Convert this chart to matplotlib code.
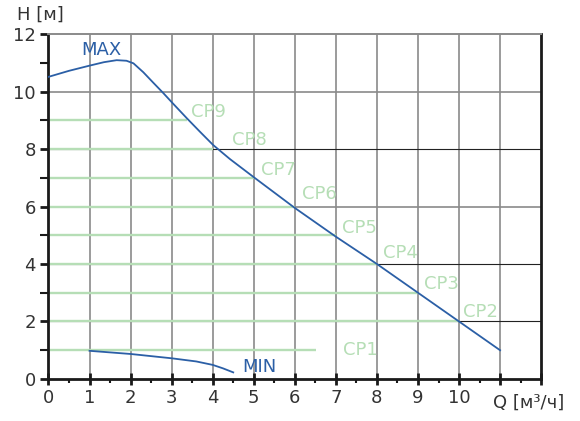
import matplotlib.pyplot as plt
import numpy as np
from matplotlib.ticker import MultipleLocator

# MAX curve (Q, H)
max_q = [0, 0.5, 1.0, 1.35, 1.66, 1.9, 2.07, 2.31, 2.55, 2.8, 3.04, 3.37, 3.69, 4.01, 4.42, 5.0, 6.0, 7.0, 8.0, 9.0, 10.0, 11.0]
max_h = [10.51, 10.72, 10.9, 11.02, 11.09, 11.07, 10.98, 10.67, 10.31, 9.94, 9.57, 9.07, 8.6, 8.14, 7.65, 7.02, 5.95, 4.95, 4.0, 3.0, 2.0, 1.0]

# MIN curve
min_q = [1.0, 2.0, 3.0, 3.6, 4.0, 4.25, 4.5]
min_h = [0.98, 0.87, 0.72, 0.61, 0.49, 0.37, 0.23]

# constant pressure lines
cp_names = ["CP1", "CP2", "CP3", "CP4", "CP5", "CP6", "CP7", "CP8", "CP9"]
cp_h = [1, 2, 3, 4, 5, 6, 7, 8, 9]
cp_end = [6.52, 10, 9, 8, 7, 6, 5, 4, 3.38]
cp_lbl_x = [7.17, 10.1, 9.15, 8.15, 7.15, 6.17, 5.18, 4.47, 3.47]
cp_lbl_y = [1.0, 2.33, 3.31, 4.39, 5.26, 6.45, 7.28, 8.33, 9.27]

blue = "#2b5fa6"
green = "#b6deb6"
txt = "#333333"
fs = 13

fig = plt.figure(figsize=(5.8, 4.21), dpi=100)
ax = fig.add_axes([0.0836, 0.0998, 0.8494, 0.8194])
ax.set_xlim(0, 12)
ax.set_ylim(0, 12)

# grid
for x in range(1, 12):
    ax.axvline(x, color="#8a8a8a", lw=1.2, zorder=1)
for y in [6, 10]:
    ax.axhline(y, color="#8a8a8a", lw=1.2, zorder=1)
for y in [2, 4, 8]:
    ax.axhline(y, color="#222222", lw=0.8, zorder=1)

for h, e in zip(cp_h, cp_end):
    ax.plot([0, e], [h, h], color=green, lw=1.7, zorder=2, solid_capstyle="butt")
for n, lx, ly in zip(cp_names, cp_lbl_x, cp_lbl_y):
    ax.text(lx, ly, n, color=green, fontsize=fs, ha="left", va="center", zorder=4)

ax.plot(max_q, max_h, color=blue, lw=1.3, zorder=3)
ax.plot(min_q, min_h, color=blue, lw=1.3, zorder=3)
ax.text(0.81, 11.44, "MAX", color=blue, fontsize=fs, ha="left", va="center")
ax.text(4.72, 0.42, "MIN", color=blue, fontsize=fs, ha="left", va="center")

for s in ["left", "bottom", "right"]:
    ax.spines[s].set_linewidth(2)
    ax.spines[s].set_color("#1a1a1a")
ax.spines["top"].set_color("#8a8a8a")
ax.spines["top"].set_linewidth(1.4)

ax.set_xticks(range(0, 13))
ax.set_xticklabels([str(i) for i in range(0, 11)] + ["", ""])
ax.xaxis.set_minor_locator(MultipleLocator(0.5))
ax.tick_params(axis="x", which="major", direction="inout", length=9, width=2, colors="#1a1a1a",
               labelcolor=txt, labelsize=fs, pad=3)
ax.tick_params(axis="x", which="minor", direction="out", length=3, width=1.5, colors="#1a1a1a")
ax.set_yticks(range(0, 13, 2))
ax.yaxis.set_minor_locator(MultipleLocator(1))
ax.tick_params(axis="y", which="major", direction="out", length=6, width=2, colors="#1a1a1a",
               labelcolor=txt, labelsize=fs, pad=3)
ax.tick_params(axis="y", which="minor", direction="out", length=6, width=1.5, colors="#1a1a1a")

ax.text(10.83, -0.0696, "Q [м³/ч]", transform=ax.get_xaxis_transform(), color=txt,
        fontsize=fs, ha="left", va="center")
fig.text(17 / 580, 1 - 15 / 421, "H [м]", color=txt, fontsize=fs, ha="left", va="center")

fig.savefig("out.png", dpi=100)
